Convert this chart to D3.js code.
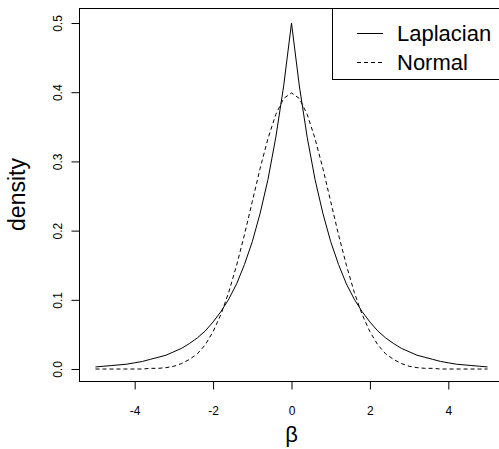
<!DOCTYPE html>
<html>
<head>
<meta charset="utf-8">
<script src="https://cdn.jsdelivr.net/npm/d3@7"></script>
<style>
  body { margin: 0; background: #fff; }
  svg { display: block; font-family: "Liberation Sans", Arial, sans-serif; }
  .tick text { fill: #000; }
</style>
</head>
<body>
<script>
var width = 499,
    height = 449;

// beta grid, step 0.2 from -5 to 5
var betaVals = [-5.0, -4.8, -4.6, -4.4, -4.2, -4.0, -3.8, -3.6, -3.4, -3.2,
  -3.0, -2.8, -2.6, -2.4, -2.2, -2.0, -1.8, -1.6, -1.4, -1.2,
  -1.0, -0.8, -0.6, -0.4, -0.2, 0.0, 0.2, 0.4, 0.6, 0.8,
  1.0, 1.2, 1.4, 1.6, 1.8, 2.0, 2.2, 2.4, 2.6, 2.8,
  3.0, 3.2, 3.4, 3.6, 3.8, 4.0, 4.2, 4.4, 4.6, 4.8, 5.0];

var laplacianVals = [0.003, 0.004, 0.005, 0.006, 0.007, 0.009, 0.011, 0.014, 0.017, 0.020,
  0.025, 0.030, 0.037, 0.045, 0.055, 0.068, 0.083, 0.101, 0.123, 0.151,
  0.184, 0.225, 0.274, 0.335, 0.409, 0.500, 0.409, 0.335, 0.274, 0.225,
  0.184, 0.151, 0.123, 0.101, 0.083, 0.068, 0.055, 0.045, 0.037, 0.030,
  0.025, 0.020, 0.017, 0.014, 0.011, 0.009, 0.007, 0.006, 0.005, 0.004, 0.003];

var normalVals = [0.000, 0.000, 0.000, 0.000, 0.000, 0.000, 0.000, 0.001, 0.001, 0.002,
  0.004, 0.008, 0.014, 0.022, 0.035, 0.054, 0.079, 0.111, 0.150, 0.194,
  0.242, 0.290, 0.333, 0.368, 0.391, 0.399, 0.391, 0.368, 0.333, 0.290,
  0.242, 0.194, 0.150, 0.111, 0.079, 0.054, 0.035, 0.022, 0.014, 0.008,
  0.004, 0.002, 0.001, 0.001, 0.000, 0.000, 0.000, 0.000, 0.000, 0.000, 0.000];

var xTicks = [-4, -2, 0, 2, 4];
var yTicks = [0, 0.1, 0.2, 0.3, 0.4, 0.5];
var legendLabels = ["Laplacian", "Normal"];
var legendDash = [null, "4,3"];

// plot region (right edge runs off the picture, as in the original)
var plotL = 79, plotR = 504, plotT = 8, plotB = 381;

var x = d3.scaleLinear().domain([-5.42, 5.42]).range([plotL, plotR]);
var y = d3.scaleLinear().domain([-0.0173, 0.5217]).range([plotB, plotT]);

var svg = d3.select("body").append("svg")
    .attr("width", width)
    .attr("height", height);

var line = d3.line()
    .x(d => x(d[0]))
    .y(d => y(d[1]));

var series = [
  { vals: laplacianVals, dash: null },
  { vals: normalVals, dash: "4,3" }
];

series.forEach(function(s) {
  svg.append("path")
      .datum(betaVals.map((b, i) => [b, s.vals[i]]))
      .attr("fill", "none")
      .attr("stroke", "#000")
      .attr("stroke-width", 1)
      .attr("stroke-dasharray", s.dash)
      .attr("d", line);
});

// box
svg.append("rect")
    .attr("x", plotL + 0.5)
    .attr("y", plotT + 0.5)
    .attr("width", plotR - plotL)
    .attr("height", plotB - plotT)
    .attr("fill", "none")
    .attr("stroke", "#000")
    .attr("stroke-width", 1);

// x axis
var gx = svg.append("g")
    .attr("transform", "translate(0," + (plotB + 0.5) + ")")
    .call(d3.axisBottom(x).tickValues(xTicks).tickSize(8).tickFormat(d3.format("d")));
gx.select(".domain").remove();
gx.selectAll(".tick line").attr("stroke", "#000");
gx.selectAll(".tick text")
    .attr("y", 33.5)
    .attr("dy", 0)
    .style("font-size", "12px")
    .style("font-family", "'Liberation Sans', Arial, sans-serif")
    .text(d => d < 0 ? "-" + Math.abs(d) : d);

// y axis, rotated labels as in R
var gy = svg.append("g")
    .attr("transform", "translate(" + (plotL + 0.5) + ",0)")
    .call(d3.axisLeft(y).tickValues(yTicks).tickSize(8).tickFormat(d3.format(".1f")));
gy.select(".domain").remove();
gy.selectAll(".tick line").attr("stroke", "#000");
gy.selectAll(".tick text")
    .attr("x", 0)
    .attr("dy", 0)
    .attr("transform", "translate(-18,0) rotate(-90)")
    .attr("text-anchor", "middle")
    .style("font-size", "12px")
    .style("font-family", "'Liberation Sans', Arial, sans-serif");

// axis titles
svg.append("text")
    .attr("x", x(0))
    .attr("y", 442)
    .attr("text-anchor", "middle")
    .attr("font-size", 22)
    .text("β");

svg.append("text")
    .attr("transform", "translate(25," + ((plotT + plotB) / 2) + ") rotate(-90)")
    .attr("text-anchor", "middle")
    .attr("font-size", 23)
    .text("density");

// legend
var lg = svg.append("g");
lg.append("rect")
    .attr("x", 332.5)
    .attr("y", plotT + 0.5)
    .attr("width", 200)
    .attr("height", 71)
    .attr("fill", "#fff")
    .attr("stroke", "#000");

legendLabels.forEach(function(lab, i) {
  var ly = 33 + i * 29;
  lg.append("line")
      .attr("x1", 357).attr("x2", 383)
      .attr("y1", ly + 0.5).attr("y2", ly + 0.5)
      .attr("stroke", "#000")
      .attr("stroke-dasharray", legendDash[i]);
  lg.append("text")
      .attr("x", 397)
      .attr("y", ly + 8)
      .attr("font-size", 22)
      .text(lab);
});
</script>
</body>
</html>
